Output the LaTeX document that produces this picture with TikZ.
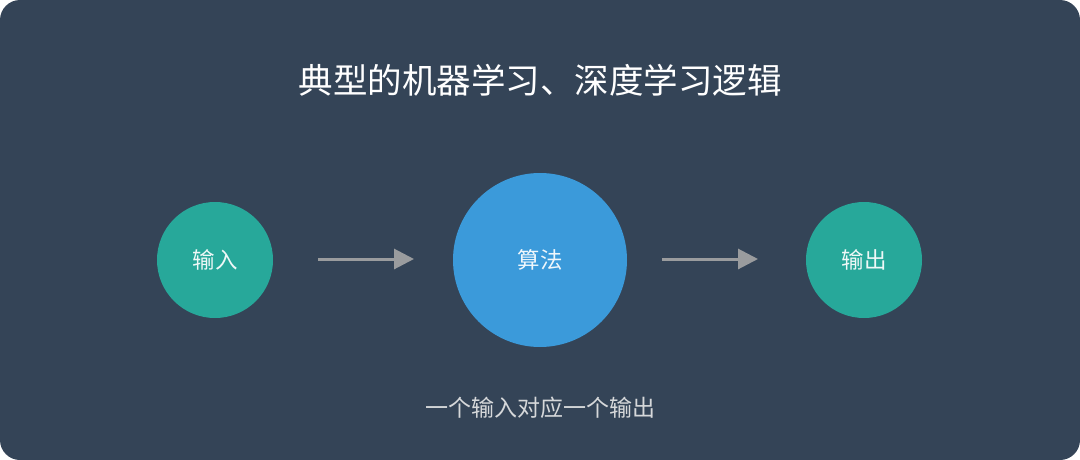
\documentclass[tikz,border=0pt]{standalone}
\usepackage{fontspec}
\setmainfont{Noto Sans CJK SC}
\usetikzlibrary{arrows.meta}
\definecolor{bgdark}{HTML}{344457}
\definecolor{tealc}{HTML}{27A89A}
\definecolor{bluec}{HTML}{3B9ADA}
\definecolor{arrowgray}{HTML}{9A9C9E}
\definecolor{subgray}{HTML}{D6D8DA}
\begin{document}
\begin{tikzpicture}[x=1pt,y=-1pt,
  smallcirc/.style={circle,fill=tealc,minimum size=116pt,inner sep=0pt,text=white!92!tealc,font=\fontsize{22.5}{26}\selectfont},
  bigcirc/.style={circle,fill=bluec,minimum size=174pt,inner sep=0pt,text=white!92!bluec,font=\fontsize{22.5}{26}\selectfont},
  flowarrow/.style={draw=arrowgray,line width=3pt,-{Triangle[length=20pt,width=20pt]}}
]
\useasboundingbox (0,0) rectangle (1080,460);
\fill[white] (0,0) rectangle (1080,460);
\fill[bgdark,rounded corners=20pt] (0,0) rectangle (1080,460);
\node[text=white,font=\fontsize{34.5}{40}\selectfont] (title) at (540,80) {典型的机器学习、深度学习逻辑};
\node[smallcirc] (in) at (215,260) {输入};
\node[bigcirc] (alg) at (540,260) {算法};
\node[smallcirc] (out) at (864,260) {输出};
\coordinate (a1s) at (318,259);
\coordinate (a1e) at (414,259);
\coordinate (a2s) at (662,259);
\coordinate (a2e) at (758,259);
\draw[flowarrow] (a1s) -- (a1e);
\draw[flowarrow] (a2s) -- (a2e);
\node[text=subgray,font=\fontsize{23}{26}\selectfont] (sub) at (540,408) {一个输入对应一个输出};
\end{tikzpicture}
\end{document}
